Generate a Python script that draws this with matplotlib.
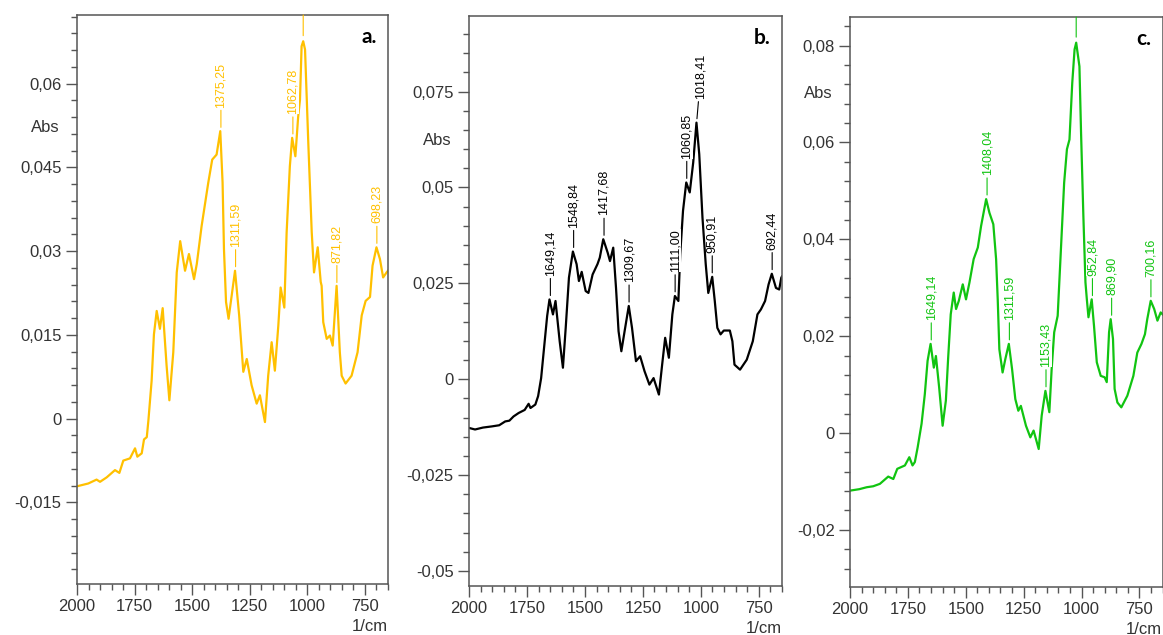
import matplotlib
matplotlib.use("Agg")
import matplotlib.pyplot as plt
import numpy as np
from matplotlib.ticker import FixedLocator, FixedFormatter, MultipleLocator

plt.rcParams['font.family'] = ['Liberation Sans', 'DejaVu Sans']

# ---------------- data ----------------
x_ticks = [2000, 1750, 1500, 1250, 1000, 750]
x_tick_labels = ["2000", "1750", "1500", "1250", "1000", "750"]

# panel a (yellow)
wn_a = [2000, 1951, 1915, 1900, 1871, 1835, 1816, 1799, 1770, 1748, 1738, 1719, 1709, 1697,
        1690, 1676, 1666, 1654, 1640, 1628, 1611, 1599, 1582, 1567, 1552, 1531, 1514, 1492,
        1480, 1459, 1430, 1413, 1394, 1378, 1368, 1362, 1353, 1342, 1314, 1296, 1278, 1263,
        1242, 1220, 1206, 1184, 1170, 1155, 1141, 1126, 1116, 1100, 1090, 1076, 1066, 1052,
        1040, 1032, 1025, 1018, 1010, 996, 981, 971, 955, 942, 938, 931, 916, 902, 890, 873,
        859, 851, 834, 808, 782, 764, 747, 728, 717, 700, 685, 671, 656, 650]
abs_a = [-0.0121, -0.0116, -0.0109, -0.0113, -0.0105, -0.0092, -0.0097, -0.0075, -0.0071,
         -0.0053, -0.0068, -0.0062, -0.0037, -0.0033, -0.0003, 0.0068, 0.0151, 0.0193, 0.0161,
         0.0198, 0.0095, 0.0033, 0.0119, 0.0262, 0.0318, 0.0265, 0.0295, 0.0250, 0.0277,
         0.0345, 0.0423, 0.0464, 0.0473, 0.0515, 0.0423, 0.0304, 0.0209, 0.0179, 0.0265,
         0.0185, 0.0084, 0.0107, 0.0060, 0.0027, 0.0042, -0.0006, 0.0077, 0.0137, 0.0086,
         0.0167, 0.0235, 0.0199, 0.0333, 0.0452, 0.0503, 0.0470, 0.0540, 0.0571, 0.0667,
         0.0676, 0.0661, 0.0495, 0.0334, 0.0262, 0.0307, 0.0245, 0.0238, 0.0173, 0.0143,
         0.0149, 0.0131, 0.0238, 0.0119, 0.0077, 0.0063, 0.0077, 0.0119, 0.0185, 0.0211,
         0.0218, 0.0274, 0.0307, 0.0286, 0.0253, 0.0262, 0.0265]
peaks_a = [1375.25, 1311.59, 1062.78, 871.82, 698.23]
peak_labels_a = ["1375,25", "1311,59", "1062,78", "871,82", "698,23"]
y_ticks_a = [0.06, 0.045, 0.03, 0.015, 0, -0.015]
y_tick_labels_a = ["0,06", "0,045", "0,03", "0,015", "0", "-0,015"]

# panel b (black)
wn_b = [2000, 1974, 1940, 1902, 1870, 1844, 1826, 1808, 1786, 1760, 1743, 1735, 1714, 1702,
        1689, 1677, 1663, 1653, 1638, 1627, 1609, 1595, 1583, 1569, 1552, 1536, 1526, 1514,
        1497, 1485, 1467, 1446, 1436, 1421, 1402, 1392, 1378, 1366, 1355, 1343, 1329, 1311,
        1297, 1280, 1262, 1243, 1222, 1204, 1181, 1167, 1154, 1138, 1123, 1112, 1097, 1089,
        1077, 1063, 1048, 1033, 1019, 1007, 993, 979, 968, 951, 940, 929, 915, 901, 875, 864,
        855, 831, 802, 776, 756, 741, 723, 708, 694, 676, 662, 653, 650]
abs_b = [-0.0127, -0.0131, -0.0126, -0.0123, -0.0120, -0.0110, -0.0108, -0.0097, -0.0088,
         -0.0080, -0.0064, -0.0075, -0.0066, -0.0044, 0.0003, 0.0078, 0.0165, 0.0208, 0.0169,
         0.0204, 0.0099, 0.0030, 0.0134, 0.0265, 0.0333, 0.0300, 0.0256, 0.0280, 0.0230,
         0.0225, 0.0273, 0.0300, 0.0317, 0.0365, 0.0330, 0.0308, 0.0343, 0.0238, 0.0125,
         0.0073, 0.0125, 0.0191, 0.0134, 0.0047, 0.0060, 0.0021, -0.0014, 0.0003, -0.0040,
         0.0038, 0.0108, 0.0056, 0.0169, 0.0217, 0.0204, 0.0326, 0.0439, 0.0513, 0.0487,
         0.0565, 0.0669, 0.0587, 0.0421, 0.0300, 0.0225, 0.0267, 0.0204, 0.0134, 0.0117,
         0.0127, 0.0127, 0.0099, 0.0038, 0.0025, 0.0051, 0.0099, 0.0169, 0.0182, 0.0204,
         0.0247, 0.0275, 0.0238, 0.0234, 0.0265, 0.0268]
peaks_b = [1649.14, 1548.84, 1417.68, 1309.67, 1111.00, 1060.85, 1018.41, 950.91, 692.44]
peak_labels_b = ["1649,14", "1548,84", "1417,68", "1309,67", "1111,00", "1060,85",
                 "1018,41", "950,91", "692,44"]
y_ticks_b = [0.075, 0.05, 0.025, 0, -0.025, -0.05]
y_tick_labels_b = ["0,075", "0,05", "0,025", "0", "-0,025", "-0,05"]

# panel c (green)
wn_c = [2000, 1960, 1928, 1900, 1871, 1835, 1813, 1796, 1763, 1744, 1730, 1720, 1708, 1691,
        1677, 1665, 1652, 1638, 1629, 1615, 1600, 1586, 1576, 1565, 1552, 1542, 1530, 1513,
        1499, 1484, 1466, 1448, 1434, 1412, 1398, 1381, 1369, 1362, 1355, 1341, 1329, 1314,
        1300, 1286, 1273, 1262, 1240, 1221, 1207, 1185, 1172, 1156, 1139, 1129, 1118, 1103,
        1089, 1075, 1063, 1052, 1040, 1030, 1023, 1009, 1002, 992, 983, 977, 970, 956, 946,
        934, 917, 900, 891, 881, 874, 864, 857, 845, 828, 802, 776, 759, 741, 726, 716, 701,
        686, 672, 658, 650]
abs_c = [-0.0119, -0.0116, -0.0112, -0.0110, -0.0105, -0.0090, -0.0095, -0.0074, -0.0067,
         -0.0050, -0.0067, -0.0060, -0.0030, 0.0019, 0.0080, 0.0149, 0.0184, 0.0135, 0.0159,
         0.0094, 0.0015, 0.0067, 0.0156, 0.0245, 0.0290, 0.0256, 0.0273, 0.0307, 0.0276,
         0.0311, 0.0359, 0.0383, 0.0427, 0.0483, 0.0455, 0.0431, 0.0359, 0.0276, 0.0173,
         0.0125, 0.0153, 0.0184, 0.0132, 0.0070, 0.0046, 0.0056, 0.0015, -0.0009, 0.0005,
         -0.0033, 0.0036, 0.0087, 0.0043, 0.0132, 0.0208, 0.0242, 0.0379, 0.0517, 0.0586,
         0.0606, 0.0723, 0.0792, 0.0806, 0.0757, 0.0620, 0.0448, 0.0311, 0.0276, 0.0239,
         0.0276, 0.0221, 0.0146, 0.0118, 0.0115, 0.0105, 0.0208, 0.0235, 0.0194, 0.0091,
         0.0063, 0.0053, 0.0077, 0.0118, 0.0166, 0.0184, 0.0204, 0.0235, 0.0273, 0.0256,
         0.0232, 0.0249, 0.0245]
peaks_c = [1649.14, 1408.04, 1311.59, 1153.43, 952.84, 869.90, 700.16]
peak_labels_c = ["1649,14", "1408,04", "1311,59", "1153,43", "952,84", "869,90", "700,16"]
y_ticks_c = [0.08, 0.06, 0.04, 0.02, 0, -0.02]
y_tick_labels_c = ["0,08", "0,06", "0,04", "0,02", "0", "-0,02"]

# ---------------- figure ----------------
fig = plt.figure(figsize=(11.63, 6.35), dpi=100)
AX_COL = '#555555'
TXT_COL = '#333333'


def draw_panel(rect, wn, ab, color, ylim, yticks, yticklabels, yminor, peaks, peak_labels,
               letter, abs_y, label_shift=None, mark_max=True):
    ax = fig.add_axes(rect)
    wn = np.asarray(wn, float)
    ab = np.asarray(ab, float)
    ax.plot(wn, ab, color=color, lw=1.6, zorder=2, solid_joinstyle='round')
    ax.set_xlim(2000, 650)
    ax.set_ylim(*ylim)
    ax.xaxis.set_major_locator(FixedLocator(x_ticks))
    ax.xaxis.set_major_formatter(FixedFormatter(x_tick_labels))
    ax.xaxis.set_minor_locator(MultipleLocator(50))
    ax.yaxis.set_major_locator(FixedLocator(yticks))
    ax.yaxis.set_major_formatter(FixedFormatter(yticklabels))
    ax.yaxis.set_minor_locator(MultipleLocator(yminor))
    ax.tick_params(which='both', direction='out', color=AX_COL, width=1.0,
                   labelcolor=TXT_COL, labelsize=12)
    ax.tick_params(which='major', length=8, pad=3)
    ax.tick_params(which='minor', length=4.5)
    for s in ax.spines.values():
        s.set_color(AX_COL)
        s.set_linewidth(1.1)

    order = np.argsort(wn)
    xs, ys = wn[order], ab[order]
    label_shift = label_shift or {}
    for pk, lab in zip(peaks, peak_labels):
        fine = np.linspace(pk - 8, pk + 8, 33)
        yv = np.interp(fine, xs, ys).max()
        dx = label_shift.get(lab, 0)
        ax.annotate(lab, xy=(pk, yv), xytext=(dx, 24), textcoords='offset pixels',
                    rotation=90, ha='center', va='bottom', fontsize=9, color=color,
                    bbox=dict(boxstyle='square,pad=0', fc='white', ec='none'),
                    arrowprops=dict(arrowstyle='-', color=color, lw=0.8,
                                    shrinkA=2, shrinkB=3), zorder=3)
    if mark_max:
        i = int(np.argmax(ab))
        ax.annotate('', xy=(wn[i], ab[i]), xytext=(wn[i], 1.0),
                    textcoords=('data', 'axes fraction'),
                    arrowprops=dict(arrowstyle='-', color=color, lw=0.8,
                                    shrinkA=0, shrinkB=4))

    ax.text(0.963, 0.962, letter, transform=ax.transAxes, ha='right', va='center',
            fontsize=15, fontweight='bold', family=['Lato', 'DejaVu Sans'], color='black')
    ax.text(-0.055, abs_y, 'Abs', transform=ax.transAxes, ha='right', va='center',
            fontsize=12, color=TXT_COL)
    ax.text(0.999, -0.075, '1/cm', transform=ax.transAxes, ha='right', va='center',
            fontsize=12, color=TXT_COL)
    return ax


draw_panel([0.0662, 0.0803, 0.2674, 0.8961], wn_a, abs_a, '#FFC000',
           (-0.0296, 0.0723), y_ticks_a, y_tick_labels_a, 0.003,
           peaks_a, peak_labels_a, 'a.', 0.803)
draw_panel([0.4033, 0.0772, 0.2691, 0.8976], wn_b, abs_b, '#000000',
           (-0.0539, 0.0947), y_ticks_b, y_tick_labels_b, 0.005,
           peaks_b, peak_labels_b, 'b.', 0.782,
           label_shift={"1018,41": 4}, mark_max=False)
draw_panel([0.7309, 0.0756, 0.2687, 0.8976], wn_c, abs_c, '#11C411',
           (-0.0318, 0.0859), y_ticks_c, y_tick_labels_c, 0.004,
           peaks_c, peak_labels_c, 'c.', 0.865)

fig.savefig('out.png', dpi=100)
